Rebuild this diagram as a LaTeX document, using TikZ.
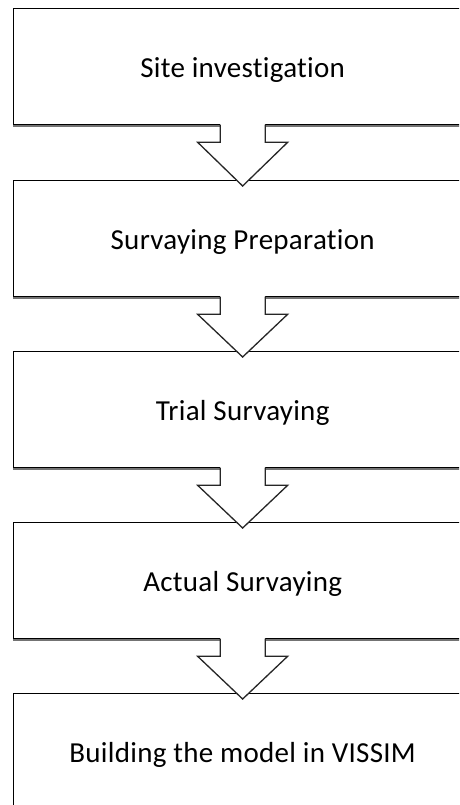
\documentclass[tikz,border=0pt]{standalone}
\usepackage{fontspec}
\setmainfont[Ligatures=NoCommon,RawFeature=-liga,LetterSpace=1]{Carlito}
\usetikzlibrary{calc}
\begin{document}
\begin{tikzpicture}[x=1pt,y=-1pt,
  stepbox/.style={draw=black, line width=1.3pt, fill=white, minimum width=458pt,
    minimum height=116pt, inner sep=0pt, anchor=north west,
    font=\fontsize{29}{34}\selectfont, text height=22pt, text depth=0pt},
  shadowline/.style={draw=black!55, line width=2.4pt},
  arrowfill/.style={fill=white, draw=none},
  arrowline/.style={draw=black!85, line width=1.3pt, line join=miter}]
\useasboundingbox (0,0) rectangle (459,805);
\clip (0,0) rectangle (459,805);
\node[stepbox] (b1) at (13,8)   {Site investigation};
\node[stepbox] (b2) at (13,180) {Survaying Preparation};
\node[stepbox] (b3) at (13,351) {Trial Survaying};
\node[stepbox] (b4) at (13,522) {Actual Survaying};
\node[stepbox] (b5) at (13,693) {Building the model in VISSIM};
\foreach \b in {b1,b2,b3,b4,b5}{
  \draw[shadowline] ($(\b.south west)+(0,0.6)$) -- ($(\b.south east)+(0,0.6)$);
}
\foreach \a/\b in {b1/b2,b2/b3,b3/b4,b4/b5}{
  \coordinate (tip) at ($(\b.north)+(0,6)$);
  \fill[arrowfill] ($(\a.south)+(-22.5,-2)$) -- ($(\a.south)+(-22.5,17)$) -- ($(\a.south)+(-45,17)$)
     -- (tip) -- ($(\a.south)+(45,17)$) -- ($(\a.south)+(22.5,17)$) -- ($(\a.south)+(22.5,-2)$) -- cycle;
  \draw[arrowline] ($(\a.south)+(-22.5,-0.6)$) -- ($(\a.south)+(-22.5,17)$) -- ($(\a.south)+(-45,17)$)
     -- (tip) -- ($(\a.south)+(45,17)$) -- ($(\a.south)+(22.5,17)$) -- ($(\a.south)+(22.5,-0.6)$);
}
\end{tikzpicture}
\end{document}
